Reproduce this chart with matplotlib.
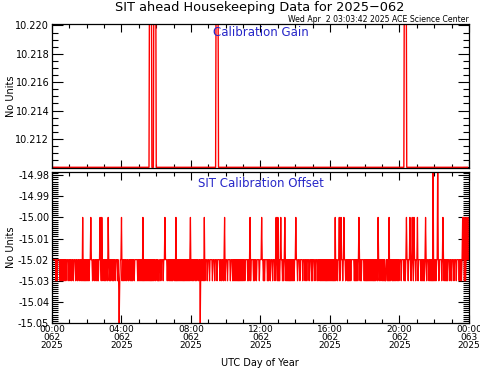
import numpy as np
import matplotlib
matplotlib.use('Agg')
import matplotlib.pyplot as plt
from matplotlib.ticker import MultipleLocator

# ---- data (hours of day 062) ----
gain_base = 10.210
gain_spike_hours = [5.64, 5.93, 9.50, 20.37]
gain_spike_value = 10.25

offset_base = -15.02
offset_low = -15.03
# intervals where the offset flickers between -15.02 and -15.03
offset_flicker = [
    (0.17, 0.31), (0.42, 0.84), (1.00, 1.07), (1.19, 1.30), (1.42, 1.50),
    (1.61, 2.19), (2.28, 2.38), (2.47, 2.61), (2.72, 2.86), (2.99, 3.15),
    (3.24, 3.34), (3.43, 3.57), (3.72, 3.84), (3.97, 4.11), (4.26, 4.34),
    (4.45, 4.59), (4.68, 4.78), (4.87, 5.93), (6.03, 6.14), (6.22, 6.33),
    (6.45, 6.56), (6.68, 6.89), (6.98, 7.94), (8.04, 8.13), (8.23, 8.36),
    (8.48, 8.56), (8.67, 8.81), (8.90, 9.00), (9.19, 9.28), (9.63, 9.71),
    (9.82, 9.90), (10.05, 10.15), (10.34, 11.01), (11.21, 11.30),
    (11.40, 11.49), (11.55, 11.68), (11.87, 11.97), (12.13, 12.26),
    (12.36, 12.51), (12.64, 12.74), (12.93, 13.12), (13.22, 13.99),
    (14.08, 14.20), (14.37, 14.46), (14.62, 14.73), (14.89, 15.04),
    (15.23, 15.33), (15.42, 16.29), (16.39, 16.48), (16.67, 16.81),
    (16.96, 17.25), (17.34, 17.54), (17.69, 17.82), (17.92, 18.69),
    (18.78, 18.88), (18.98, 19.17), (19.26, 19.45), (19.55, 19.74),
    (19.84, 20.03), (20.22, 20.45), (20.56, 20.70), (21.18, 21.57),
    (21.66, 22.04), (22.14, 22.33), (22.52, 22.81), (23.10, 23.19),
    (23.38, 23.58), (23.67, 23.87),
]
# single short drops to -15.03 inside the quieter stretches
offset_dip_hours = [
    0.92, 1.12, 1.36, 1.55, 2.42, 2.66, 2.93, 3.20, 3.38, 3.64, 3.90, 4.20,
    4.40, 4.63, 5.98, 6.18, 6.40, 6.62, 6.93, 7.99, 8.18, 8.42, 8.62, 9.08,
    9.36, 9.50, 9.76, 9.98, 10.25, 11.10, 11.35, 11.78, 12.05, 12.56, 12.85,
    14.03, 14.28, 14.55, 14.80, 15.12, 15.38, 16.33, 16.58, 16.90, 17.60,
    18.74, 18.93, 19.21, 19.50, 19.79, 20.10, 20.50, 20.80, 20.95, 21.08,
    22.10, 22.42, 22.90, 23.00, 23.28, 23.63, 23.93,
]
offset_up_hours = [
    1.77, 2.23, 2.76, 2.88, 3.24, 4.01, 5.24, 6.50, 7.14, 7.98, 8.77, 9.94,
    11.40, 12.07, 12.89, 13.01, 13.16, 13.41, 14.04, 16.29, 16.52, 16.63,
    16.79, 17.67, 18.78, 19.41, 20.41, 20.60, 20.72, 20.83, 21.02, 21.51,
    22.49, 23.62, 23.70, 23.77, 23.85, 23.93,
]
offset_up_value = -15.00
offset_down_hours = [3.86, 8.52]
offset_down_value = -15.05
offset_high_hours = [21.94, 22.20]
offset_high_value = -14.97

tick_hours = [0, 4, 8, 12, 16, 20, 24]
tick_labels = ['00:00\n062\n2025', '04:00\n062\n2025', '08:00\n062\n2025',
               '12:00\n062\n2025', '16:00\n062\n2025', '20:00\n062\n2025',
               '00:00\n063\n2025']

# ---- build series ----
t_gain = np.arange(0, 24, 5 / 60.)
gain = np.full(len(t_gain), gain_base)
for h in gain_spike_hours:
    gain[np.argmin(abs(t_gain - h))] = gain_spike_value

t_off = np.arange(0, 24 + 1e-9, 2 / 60.)
offset = np.full(len(t_off), offset_base)
for s, e in offset_flicker:
    idx = np.where((t_off >= s) & (t_off < e))[0]
    offset[idx[1::2]] = offset_low
for h in offset_dip_hours:
    offset[np.argmin(abs(t_off - h))] = offset_low
for h in offset_up_hours:
    offset[np.argmin(abs(t_off - h))] = offset_up_value
for h in offset_down_hours:
    offset[np.argmin(abs(t_off - h))] = offset_down_value
for h in offset_high_hours:
    offset[np.argmin(abs(t_off - h))] = offset_high_value

# ---- figure ----
plt.rcParams['font.family'] = 'DejaVu Sans'
fig = plt.figure(figsize=(4.81, 3.70), dpi=100)
W, H = 481., 370.
ax1 = fig.add_axes([52 / W, (H - 168) / H, 417 / W, 144 / H])
ax2 = fig.add_axes([52 / W, (H - 323) / H, 417 / W, 151 / H])

blue = '#2626c8'
for ax in (ax1, ax2):
    ax.set_xlim(0, 24)
    ax.xaxis.set_major_locator(MultipleLocator(4))
    ax.xaxis.set_minor_locator(MultipleLocator(1))
    ax.tick_params(which='both', direction='in', top=True, right=True,
                   labelsize=7, width=0.8, pad=2)
    ax.tick_params(axis='x', which='major', length=6, pad=1.5)
    ax.tick_params(axis='x', which='minor', length=3)
    ax.tick_params(axis='y', which='major', length=8)
    ax.tick_params(axis='y', which='minor', length=4)
    ax.set_ylabel('No Units', fontsize=7)
    ax.yaxis.set_label_coords(-36 / 417., 0.5)
    for sp in ax.spines.values():
        sp.set_linewidth(0.9)

ax1.plot(t_gain, gain, color='red', lw=1)
ax1.set_ylim(10.20995, 10.2201)
ax1.yaxis.set_minor_locator(MultipleLocator(0.0005))
ax1.yaxis.set_major_formatter(plt.FormatStrFormatter('%.3f'))
ax1.set_yticks([10.212, 10.214, 10.216, 10.218, 10.220])
ax1.set_xticklabels([])
ax1.text(0.5, 0.94, 'Calibration Gain', transform=ax1.transAxes,
         ha='center', va='center', color=blue, fontsize=8.5)

ax2.plot(t_off, offset, color='red', lw=0.9)
ax2.set_ylim(-15.05, -14.9785)
ax2.yaxis.set_major_locator(MultipleLocator(0.01))
ax2.yaxis.set_minor_locator(MultipleLocator(0.001))
ax2.yaxis.set_major_formatter(plt.FormatStrFormatter('%.2f'))
ax2.set_xticks(tick_hours)
ax2.set_xticklabels(tick_labels, linespacing=0.82, fontsize=6.5)
ax2.text(0.5, 0.925, 'SIT Calibration Offset', transform=ax2.transAxes,
         ha='center', va='center', color=blue, fontsize=8.5)

fig.text(260 / W, 1 - 363 / H, 'UTC Day of Year', ha='center', va='center',
         fontsize=7)
fig.text(260 / W, 1 - 8 / H, 'SIT ahead Housekeeping Data for 2025\u2212062',
         ha='center', va='center', fontsize=9.3)
fig.text(469 / W, 1 - 19 / H, 'Wed Apr  2 03:03:42 2025 ACE Science Center',
         ha='right', va='center', fontsize=5.6)

fig.savefig('out.png', dpi=100)
